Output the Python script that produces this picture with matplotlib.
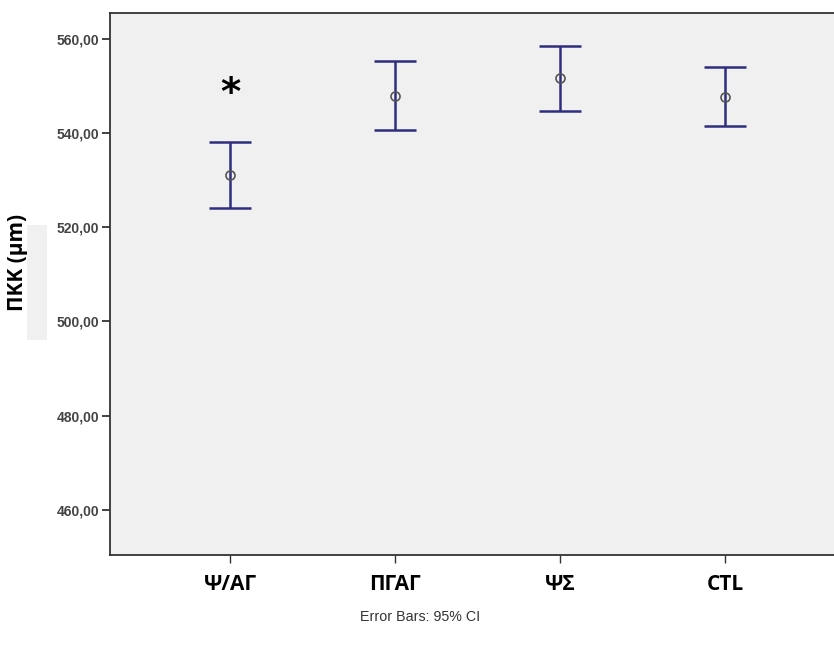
import matplotlib.pyplot as plt
from matplotlib.patches import Rectangle
from matplotlib.ticker import FuncFormatter

groups = ['Ψ/ΑΓ', 'ΠΓΑΓ', 'ΨΣ', 'CTL']
means = [531.1, 547.9, 551.6, 547.7]
ci_low = [524.1, 540.7, 544.7, 541.6]
ci_high = [538.2, 555.4, 558.4, 554.0]
y_ticks = [460, 480, 500, 520, 540, 560]

bar_color = '#2e2e80'

fig = plt.figure(figsize=(8.34, 6.5), dpi=100)
ax = fig.add_axes([0.1319, 0.1462, 0.8681, 0.8338])
ax.set_facecolor('#f0f0f0')

x = list(range(len(groups)))
err = [[m - lo for m, lo in zip(means, ci_low)], [hi - m for m, hi in zip(means, ci_high)]]
ax.errorbar(x, means, yerr=err, fmt='none', ecolor=bar_color, elinewidth=1.8,
            capsize=15, capthick=1.8, zorder=2)
ax.plot(x, means, 'o', markersize=6.5, markerfacecolor='none',
        markeredgecolor='#555555', markeredgewidth=1.2, zorder=3)

ax.text(0, 548.3, '*', ha='center', va='center', fontsize=28, fontweight='bold')

ax.set_xlim(-0.727, 3.66)
ax.set_ylim(450.4, 565.5)
ax.set_xticks(x)
ax.set_xticklabels(groups, fontsize=15, fontweight='bold', family=['Open Sans', 'DejaVu Sans'])
ax.set_yticks(y_ticks)
ax.yaxis.set_major_formatter(FuncFormatter(lambda v, p: f'{v:.2f}'.replace('.', ',')))
for lab in ax.get_yticklabels():
    lab.set_fontsize(10)
    lab.set_fontweight('bold')
    lab.set_color('#444444')
    lab.set_family(['Liberation Sans', 'DejaVu Sans'])

ax.tick_params(axis='y', length=6, width=1.3, color='#333333', pad=2)
ax.tick_params(axis='x', length=6, width=1.0, color='#333333', pad=8)
for side in ['left', 'bottom', 'top']:
    ax.spines[side].set_color('#333333')
    ax.spines[side].set_linewidth(1.3)
ax.spines['right'].set_visible(False)

fig.patches.append(Rectangle((27 / 834, 1 - 340 / 650), 20 / 834, 115 / 650,
                             transform=fig.transFigure, facecolor='#f0f0f0',
                             edgecolor='none', zorder=0))
fig.text(18 / 834, 1 - 262 / 650, 'ΠΚΚ (μm)', rotation=90, ha='center', va='center',
         fontsize=15, fontweight='bold', family=['Open Sans', 'DejaVu Sans'])
fig.text(420 / 834, 1 - 617 / 650, 'Error Bars: 95% CI', ha='center', va='center',
         fontsize=10.3, color='#333333', family=['Liberation Sans', 'DejaVu Sans'])

fig.savefig('out.png', dpi=100)
